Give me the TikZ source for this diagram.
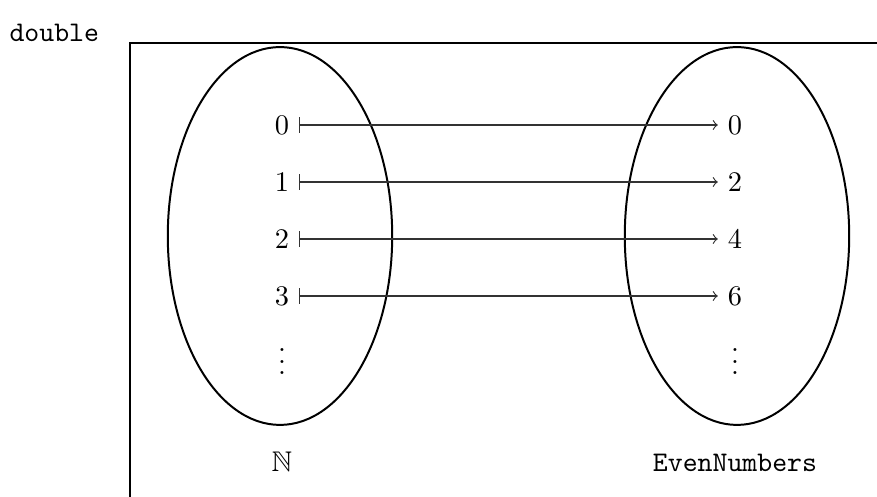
\documentclass[tikz,border=0pt]{standalone}
\usepackage{amsmath,amssymb}
\usetikzlibrary{shapes.geometric}

\begin{document}
\begin{tikzpicture}[
      x=0.352pt, y=-0.352pt,
      frame/.style  ={draw, line width=0.7pt},
      setoval/.style={ellipse, draw, line width=0.7pt, inner sep=0pt,
                      minimum width=79pt, minimum height=133pt},
      elem/.style   ={inner sep=3.33pt},
      maparr/.style ={|->, thin, draw=black!80},
      setlbl/.style ={anchor=base, inner sep=0pt}
    ]
    \useasboundingbox (0,0) rectangle (877,497);
    % --- function name and frame ---
    \node[anchor=base west, inner sep=0pt, font=\ttfamily] (fname) at (9,42) {double};
    \draw[frame] (130,43) rectangle (920,540);
    % --- domain and codomain ---
    \node[setoval] (dom) at (280,236) {};
    \node[setoval] (cod) at (737,236) {};
    % --- elements and mapping ---
    \foreach \n/\m [count=\i from 0] in {0/0,1/2,2/4,3/6} {
      \node[elem] (a\n) at (282,125+57*\i) {$\n$};
      \node[elem] (b\m) at (735,125+57*\i) {$\m$};
      \draw[maparr] (a\n.east) -- (b\m.west);
    }
    \node[elem] (adots) at (282,353) {$\vdots$};
    \node[elem] (bdots) at (735,353) {$\vdots$};
    % --- set names ---
    \node[setlbl] (domlbl) at (282,472) {$\mathbb{N}$};
    \node[setlbl, font=\ttfamily] (codlbl) at (735,472) {EvenNumbers};
  \end{tikzpicture}
\end{document}
